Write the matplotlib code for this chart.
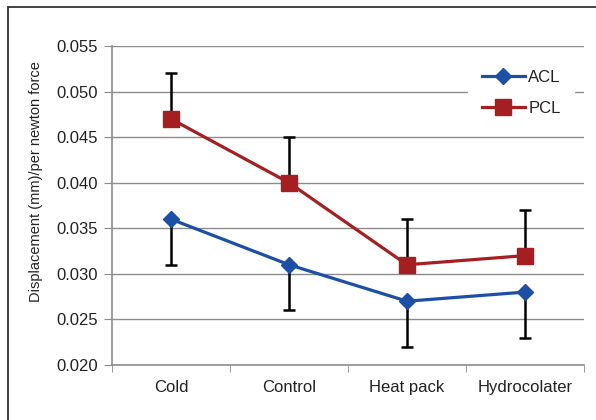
import matplotlib.pyplot as plt
from matplotlib.patches import Rectangle

plt.rcParams['font.family'] = ['Liberation Sans', 'DejaVu Sans']
plt.rcParams['font.size'] = 11

categories = ['Cold', 'Control', 'Heat pack', 'Hydrocolater']
acl = [0.036, 0.031, 0.027, 0.028]
pcl = [0.047, 0.040, 0.031, 0.032]
acl_err = [0.005, 0.005, 0.005, 0.005]
pcl_err = [0.005, 0.005, 0.005, 0.005]
yticks = [0.020, 0.025, 0.030, 0.035, 0.040, 0.045, 0.050, 0.055]

blue = '#1c4fa5'
red = '#a41e22'
grid = '#8c8c8c'
text_color = '#222222'

fig = plt.figure(figsize=(5.96, 4.20), dpi=100)
ax = fig.add_axes([112 / 596, 1 - 365 / 420, 472 / 596, 319 / 420])

x = list(range(len(categories)))

# one-sided error bars: PCL upward, ACL downward
ax.errorbar(x, pcl, yerr=[[0] * 4, pcl_err], fmt='none', ecolor='black',
            elinewidth=1.8, capsize=4, capthick=1.8, zorder=2)
ax.errorbar(x, acl, yerr=[acl_err, [0] * 4], fmt='none', ecolor='black',
            elinewidth=1.8, capsize=4, capthick=1.8, zorder=2)

ax.plot(x, acl, color=blue, lw=2.3, marker='D', ms=8, label='ACL', zorder=3)
ax.plot(x, pcl, color=red, lw=2.3, marker='s', ms=11, label='PCL', zorder=3)

ax.set_xlim(-0.5, 3.5)
ax.set_ylim(0.020, 0.055)
ax.set_yticks(yticks)
ax.set_yticklabels([f'{v:.3f}' for v in yticks], fontsize=12, color=text_color)
ax.set_xticks(x)
ax.set_xticklabels(categories, fontsize=12, color=text_color)
ax.set_xticks([-0.5, 0.5, 1.5, 2.5, 3.5], minor=True)
ax.tick_params(axis='x', which='major', length=0, pad=11)
ax.tick_params(axis='x', which='minor', length=5, color=grid, direction='out')
ax.tick_params(axis='y', length=6, color=grid, pad=4)

ax.yaxis.grid(True, color=grid, lw=1)
ax.set_axisbelow(True)
for side in ['top', 'right']:
    ax.spines[side].set_visible(False)
for side in ['left', 'bottom']:
    ax.spines[side].set_color(grid)
    ax.spines[side].set_linewidth(1.2)

fig.text(36 / 596, 1 - 182 / 420, 'Displacement (mm)/per newton force',
         rotation=90, ha='center', va='center', fontsize=10.5, color=text_color)

leg = ax.legend(loc='upper left', bbox_to_anchor=(348 / 472, 1 - 2 / 319),
                frameon=True, fontsize=12, handlelength=2.6,
                borderpad=0.8, labelspacing=1.0, handletextpad=0.2)
for t in leg.get_texts():
    t.set_color(text_color)
leg.get_frame().set_edgecolor('white')
leg.get_frame().set_facecolor('white')
leg.get_frame().set_alpha(1)
leg.get_frame().set_boxstyle('square', pad=0)

# outer border (right and bottom edges fall outside the picture)
fig.patches.append(Rectangle((8 / 596, -0.05), 1.0, 1 - 7 / 420 + 0.05,
                             transform=fig.transFigure, fill=False,
                             edgecolor='#333333', lw=1.3))

fig.savefig('out.png', dpi=100)
